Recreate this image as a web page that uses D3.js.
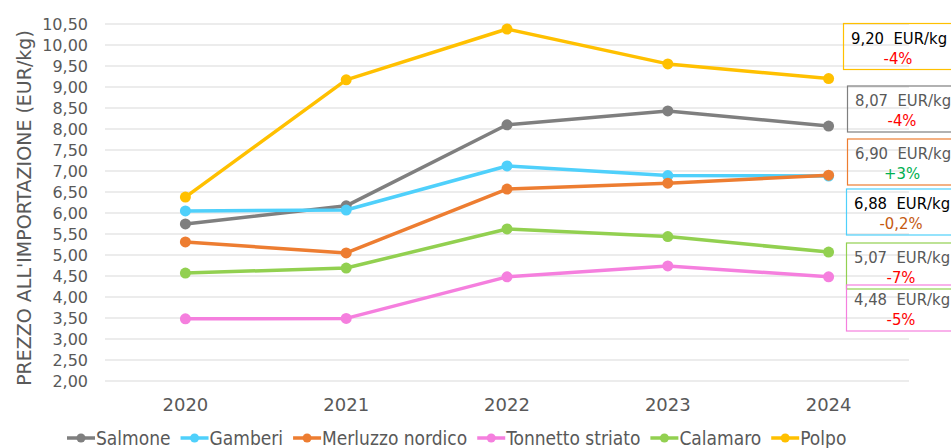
<!DOCTYPE html>
<html><head><meta charset="utf-8">
<script src="https://cdn.jsdelivr.net/npm/d3@7/dist/d3.min.js"></script>
<style>body{margin:0;background:#fff}svg{display:block}</style>
</head><body>
<script>
const years = ["2020","2021","2022","2023","2024"];
const seriesNames = ["Salmone","Gamberi","Merluzzo nordico","Tonnetto striato","Calamaro","Polpo"];
const seriesColors = ["#7f7f7f","#4fd0fb","#ed7d31","#f57fde","#92d050","#ffc000"];
const salmone = [5.74, 6.17, 8.10, 8.43, 8.07];
const gamberi = [6.05, 6.07, 7.12, 6.89, 6.88];
const merluzzo = [5.31, 5.05, 6.57, 6.71, 6.90];
const tonnetto = [3.48, 3.49, 4.48, 4.74, 4.48];
const calamaro = [4.57, 4.69, 5.62, 5.44, 5.07];
const polpo = [6.38, 9.17, 10.38, 9.55, 9.20];
const yTicks = [2,2.5,3,3.5,4,4.5,5,5.5,6,6.5,7,7.5,8,8.5,9,9.5,10,10.5];
// annotation boxes (order: Polpo, Salmone, Merluzzo, Gamberi, Calamaro, Tonnetto)
const labelSeries = [5,0,2,1,4,3];
const labelValues = ["9,20  EUR/kg","8,07  EUR/kg","6,90  EUR/kg","6,88  EUR/kg","5,07  EUR/kg","4,48  EUR/kg"];
const labelChanges = ["-4%","-4%","+3%","-0,2%","-7%","-5%"];
const changeColors = ["#ff0000","#ff0000","#00b050","#c55a11","#ff0000","#ff0000"];
const valueColors = ["#000000","#595959","#595959","#000000","#595959","#595959"];

const allSeries = [salmone,gamberi,merluzzo,tonnetto,calamaro,polpo];
const W=951,H=448;
const svg=d3.select("body").append("svg").attr("width",W).attr("height",H);
const FONT="DejaVu Sans";
const x=d3.scaleBand().domain(years).range([105,909]);
const y=d3.scaleLinear().domain([2,10.5]).range([381,24]);

// gridlines
svg.append("g").selectAll("line").data(yTicks).join("line")
 .attr("x1",105).attr("x2",909).attr("y1",d=>y(d)).attr("y2",d=>y(d))
 .attr("stroke","#d9d9d9").attr("stroke-width",1);

const fmt=d=>d.toFixed(2).replace(".",",");
const yAxis=svg.append("g").attr("transform","translate(105,0)")
 .call(d3.axisLeft(y).tickValues(yTicks).tickFormat(fmt).tickSize(0).tickPadding(17));
yAxis.select(".domain").remove();
yAxis.selectAll("text").attr("font-family",FONT).attr("font-size",16).attr("fill","#595959");

const xAxis=svg.append("g").attr("transform","translate(0,398)")
 .call(d3.axisBottom(x).tickSize(0).tickPadding(0));
xAxis.select(".domain").remove();
xAxis.selectAll("text").attr("font-family",FONT).attr("font-size",18).attr("fill","#595959").attr("dy","0.71em");

svg.append("text").attr("transform","translate(31,208) rotate(-90)")
 .attr("text-anchor","middle").attr("font-family",FONT).attr("font-size",19)
 .attr("fill","#595959").text("PREZZO ALL'IMPORTAZIONE (EUR/kg)");

const line=d3.line().x((d,i)=>x(years[i])+x.bandwidth()/2).y(d=>y(d));
allSeries.forEach((s,k)=>{
  const g=svg.append("g");
  g.append("path").attr("d",line(s)).attr("fill","none").attr("stroke",seriesColors[k]).attr("stroke-width",3.5).attr("stroke-linejoin","round");
  g.selectAll("circle").data(s).join("circle")
   .attr("cx",(d,i)=>x(years[i])+x.bandwidth()/2).attr("cy",d=>y(d)).attr("r",5.5).attr("fill",seriesColors[k]);
});

// annotation boxes
const boxX=[843,847,847,846,846,846];
const boxY=[23.5,86,139,189,243,285];
labelSeries.forEach((si,j)=>{
  const g=svg.append("g").attr("transform",`translate(${boxX[j]},${boxY[j]})`);
  g.append("rect").attr("x",0.5).attr("y",0).attr("width",120).attr("height",46)
   .attr("fill","none").attr("stroke",seriesColors[si]).attr("stroke-width",1.2);
  g.append("text").attr("x",8).attr("y",20)
   .attr("font-family","DejaVu Sans Condensed").attr("font-size",16.5).attr("fill",valueColors[j]).style("white-space","pre").text(labelValues[j]);
  g.append("text").attr("x",55).attr("y",40).attr("text-anchor","middle")
   .attr("font-family","DejaVu Sans Condensed").attr("font-size",16.5).attr("fill",changeColors[j]).text(labelChanges[j]);
});

// legend
const leg=svg.append("g").attr("transform","translate(67,438)");
let lx=0;
seriesNames.forEach((n,k)=>{
  const g=leg.append("g").attr("transform",`translate(${lx},0)`);
  g.append("line").attr("x1",0).attr("x2",28).attr("y1",0).attr("y2",0).attr("stroke",seriesColors[k]).attr("stroke-width",3.5);
  g.append("circle").attr("cx",14).attr("cy",0).attr("r",4.5).attr("fill",seriesColors[k]);
  const t=g.append("text").attr("x",29).attr("y",6.5).attr("font-family","DejaVu Sans Condensed").attr("font-size",19)
   .attr("fill","#595959").text(n);
  lx+=29+t.node().getComputedTextLength()+10;
});
</script>
</body></html>
